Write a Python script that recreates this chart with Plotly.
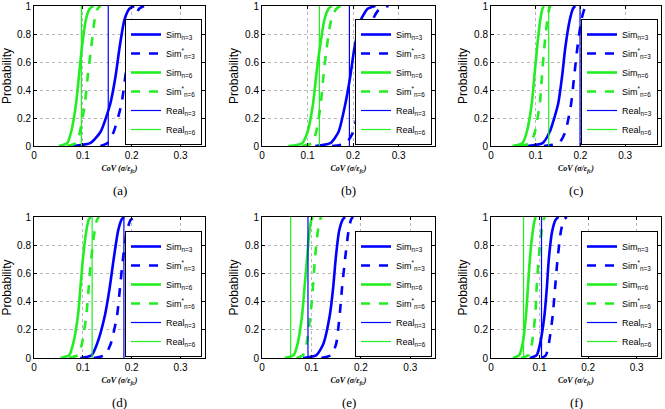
import plotly.graph_objects as go

# Probability levels at which the curve positions were read
prob_levels = [0, 0.02, 0.1, 0.3, 0.5, 0.7, 0.9, 0.98, 1]

panels = ["(a)", "(b)", "(c)", "(d)", "(e)", "(f)"]
x_max = [0.35, 0.38, 0.38, 0.35, 0.35, 0.35]

sim_n3 = [
    [0.078, 0.115, 0.136, 0.156, 0.167, 0.175, 0.185, 0.195, 0.205],
    [0.117, 0.150, 0.168, 0.183, 0.194, 0.203, 0.217, 0.232, 0.249],
    [0.081, 0.115, 0.131, 0.150, 0.159, 0.166, 0.176, 0.183, 0.188],
    [0.095, 0.118, 0.129, 0.145, 0.155, 0.163, 0.172, 0.179, 0.184],
    [0.083, 0.110, 0.124, 0.137, 0.144, 0.149, 0.156, 0.163, 0.168],
    [0.080, 0.094, 0.101, 0.110, 0.115, 0.119, 0.126, 0.133, 0.139],
]
simstar_n3 = [
    [0.136, 0.150, 0.163, 0.179, 0.187, 0.195, 0.205, 0.215, 0.225],
    [0.154, 0.185, 0.200, 0.214, 0.223, 0.231, 0.243, 0.258, 0.278],
    [0.118, 0.152, 0.166, 0.179, 0.186, 0.193, 0.202, 0.209, 0.214],
    [0.122, 0.145, 0.157, 0.170, 0.176, 0.182, 0.190, 0.198, 0.207],
    [0.120, 0.140, 0.150, 0.157, 0.162, 0.168, 0.175, 0.180, 0.184],
    [0.104, 0.113, 0.119, 0.127, 0.132, 0.137, 0.144, 0.150, 0.156],
]
sim_n6 = [
    [0.051, 0.068, 0.076, 0.086, 0.092, 0.098, 0.106, 0.114, 0.122],
    [0.058, 0.088, 0.100, 0.112, 0.119, 0.127, 0.137, 0.146, 0.153],
    [0.048, 0.070, 0.080, 0.091, 0.097, 0.103, 0.110, 0.115, 0.118],
    [0.054, 0.072, 0.080, 0.090, 0.095, 0.100, 0.107, 0.112, 0.116],
    [0.046, 0.064, 0.072, 0.081, 0.086, 0.091, 0.096, 0.100, 0.103],
    [0.045, 0.058, 0.065, 0.072, 0.076, 0.080, 0.086, 0.090, 0.092],
]
simstar_n6 = [
    [0.068, 0.086, 0.094, 0.104, 0.110, 0.117, 0.124, 0.130, 0.136],
    [0.088, 0.110, 0.119, 0.129, 0.135, 0.142, 0.152, 0.163, 0.172],
    [0.063, 0.088, 0.098, 0.109, 0.114, 0.119, 0.126, 0.130, 0.133],
    [0.071, 0.090, 0.098, 0.107, 0.112, 0.117, 0.124, 0.129, 0.133],
    [0.070, 0.083, 0.090, 0.098, 0.103, 0.107, 0.113, 0.117, 0.120],
    [0.062, 0.077, 0.084, 0.091, 0.094, 0.098, 0.104, 0.108, 0.111],
]
real_n3 = [0.152, 0.192, 0.199, 0.184, 0.093, 0.104]
real_n6 = [0.097, 0.126, 0.129, 0.119, 0.058, 0.067]

x_ticks = [0, 0.1, 0.2, 0.3]
x_ticktext = ["0", "0.1", "0.2", "0.3"]
y_ticks = [0, 0.2, 0.4, 0.6, 0.8, 1]
y_ticktext = ["0", "0.2", "0.4", "0.6", "0.8", "1"]

BLUE = "#0000ff"
GREEN = "#22ee22"
W, H = 665, 409

# panel boxes in pixels: left, right, top, bottom
cols = [(34, 205), (262, 435), (491, 661)]
rows = [(6, 146), (217, 358)]

fig = go.Figure()
font = "Liberation Sans, Arial, sans-serif"

for i in range(6):
    r, c = divmod(i, 3)
    l, rr = cols[c]
    t, b = rows[r]
    xa = "x" if i == 0 else f"x{i+1}"
    ya = "y" if i == 0 else f"y{i+1}"
    lg = "legend" if i == 0 else f"legend{i+1}"
    series = [
        ("Sim<sub>n=3</sub>", sim_n3[i], BLUE, 2.6, "solid"),
        ("Sim<sup>*</sup><sub>n=3</sub>", simstar_n3[i], BLUE, 2.6, "dash"),
        ("Sim<sub>n=6</sub>", sim_n6[i], GREEN, 2.6, "solid"),
        ("Sim<sup>*</sup><sub>n=6</sub>", simstar_n6[i], GREEN, 2.6, "dash"),
    ]
    for name, xs, col, w, dash in series:
        fig.add_trace(go.Scatter(
            x=xs, y=prob_levels, mode="lines", name=name,
            line=dict(color=col, width=w, dash=dash, shape="spline", smoothing=0.6),
            xaxis=xa, yaxis=ya, legend=lg, showlegend=True))
    for name, xv, col in [("Real<sub>n=3</sub>", real_n3[i], BLUE),
                          ("Real<sub>n=6</sub>", real_n6[i], GREEN)]:
        fig.add_trace(go.Scatter(
            x=[xv, xv], y=[0, 1], mode="lines", name=name,
            line=dict(color=col, width=1.2),
            xaxis=xa, yaxis=ya, legend=lg, showlegend=True))

    axcommon = dict(showline=True, linecolor="black", linewidth=1, mirror="ticks",
                    ticks="inside", ticklen=3, tickcolor="black",
                    showgrid=True, gridcolor="#b8b8b8", griddash="dot", gridwidth=1,
                    zeroline=False, automargin=False,
                    tickfont=dict(family=font, size=10, color="black"))
    xkey = "xaxis" if i == 0 else f"xaxis{i+1}"
    ykey = "yaxis" if i == 0 else f"yaxis{i+1}"
    fig.layout[xkey] = dict(
        domain=[l / W, rr / W], anchor=ya, range=[0, x_max[i]],
        tickvals=x_ticks, ticktext=x_ticktext,
        title=dict(text="<b><i>CoV (σ/ε<sub>fc</sub>)</i></b>",
                   font=dict(family="Liberation Serif, serif", size=8, color="black"),
                   standoff=5),
        **axcommon)
    fig.layout[ykey] = dict(
        domain=[1 - b / H, 1 - t / H], anchor=xa, range=[0, 1],
        tickvals=y_ticks, ticktext=y_ticktext,
        title=dict(text="Probability", font=dict(family=font, size=12, color="black"),
                   standoff=3),
        **axcommon)
    fig.layout[lg] = dict(
        x=(rr - 3) / W, y=1 - (b - 1) / H, xanchor="right", yanchor="bottom",
        bgcolor="white", bordercolor="black", borderwidth=1,
        font=dict(family=font, size=9, color="black"),
        tracegroupgap=0, itemwidth=30)
    fig.add_annotation(
        text=panels[i], x=(l + rr) / 2 / W, y=1 - (b + 44) / H,
        xref="paper", yref="paper", showarrow=False, xanchor="center", yanchor="middle",
        font=dict(family="Liberation Serif, Times New Roman, serif", size=13, color="black"))

fig.update_layout(width=W, height=H, margin=dict(l=0, r=0, t=0, b=0, autoexpand=False),
                  plot_bgcolor="white", paper_bgcolor="white")
fig.write_html("out.html", config={"displayModeBar": False},
               post_script="document.body.style.margin='0';document.body.style.overflow='hidden';")
